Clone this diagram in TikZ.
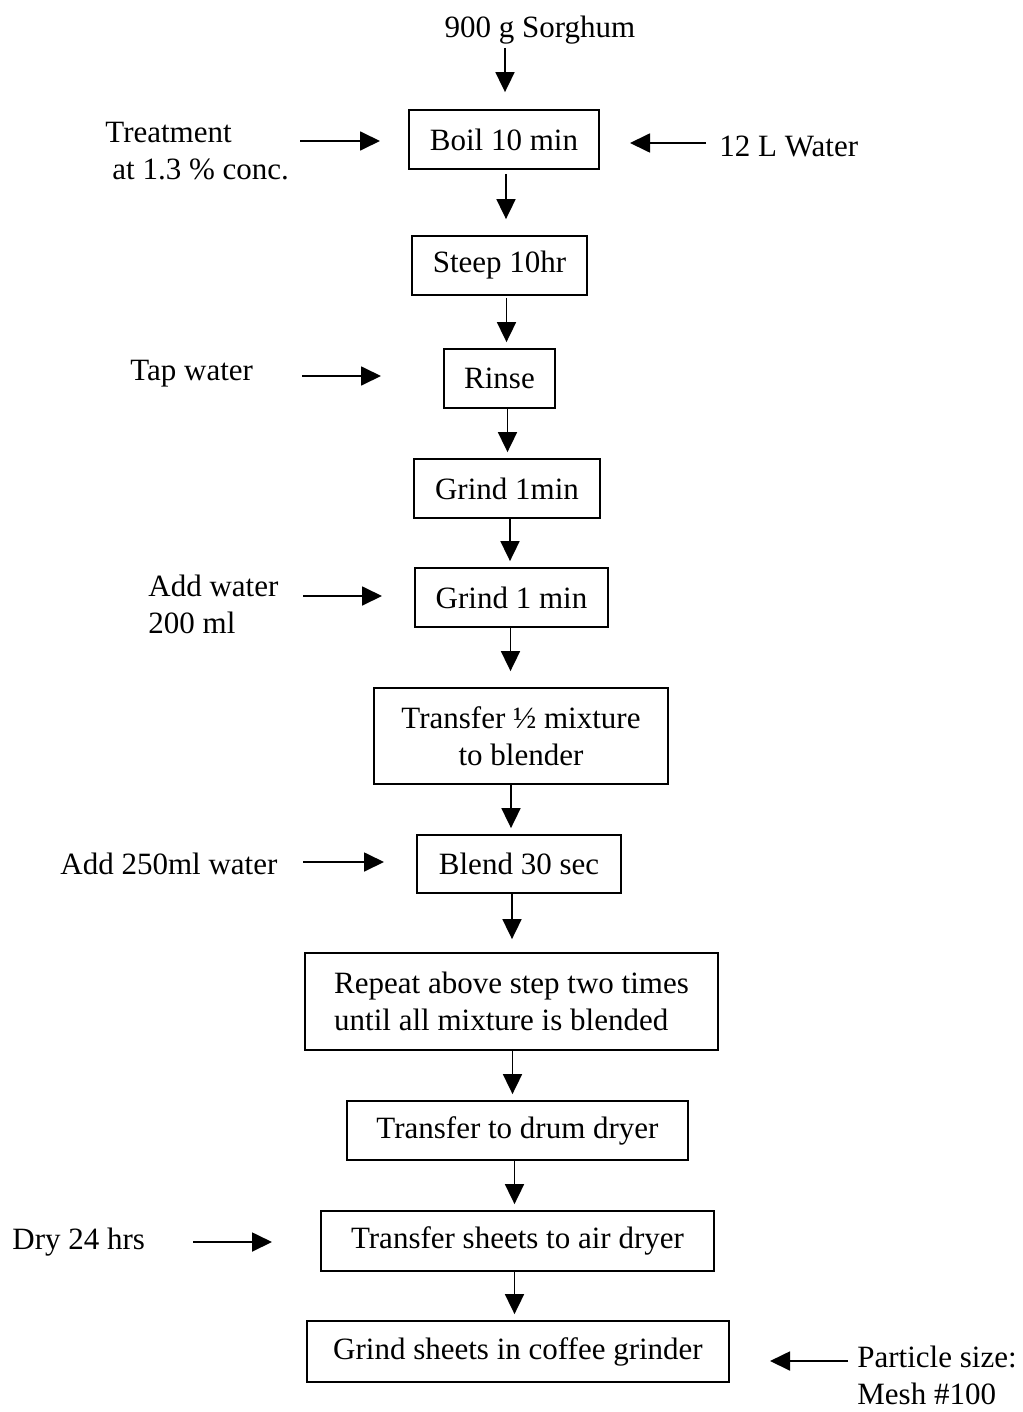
\documentclass[tikz,border=0pt]{standalone}
\usepackage{fontspec}
\setmainfont{Liberation Serif}
\usetikzlibrary{arrows.meta}
\newcommand\diagfont{\fontsize{15.5}{18.5}\selectfont}
\begin{document}
\begin{tikzpicture}[x=0.5pt,y=-0.5pt,
  box/.style={draw,line width=0.9pt,inner sep=0pt,align=center,font=\diagfont},
  lbl/.style={inner sep=0pt,font=\diagfont},
  arr/.style={line width=0.9pt,-{Triangle[length=10pt,width=9.5pt]}}]
\useasboundingbox (0,0) rectangle (1022,1412);
% boxes
\node[box,minimum width=95pt,minimum height=29.5pt] (boil) at (504,139.5) {Boil 10 min};
\node[box,minimum width=87.5pt,minimum height=29.5pt] (steep) at (499.5,265.5) {Steep 10hr};
\node[box,minimum width=55.5pt,minimum height=29.5pt] (rinse) at (499.5,378.5) {Rinse};
\node[box,minimum width=93pt,minimum height=29.5pt] (grindA) at (507,488.5) {Grind 1min};
\node[box,minimum width=96.5pt,minimum height=29.5pt] (grindB) at (511.5,597.5) {Grind 1 min};
\node[box,minimum width=147pt,minimum height=48pt] (transfer) at (521,736) {Transfer ½ mixture\\to blender};
\node[box,minimum width=102pt,minimum height=29pt] (blend) at (519,864) {Blend 30 sec};
\node[box,minimum width=206.5pt,minimum height=48.5pt,align=left] (repeat) at (511.5,1001.5) {Repeat above step two times\\until all mixture is blended};
\node[box,minimum width=170.5pt,minimum height=29.5pt] (drum) at (517.5,1130.5) {Transfer to drum dryer};
\node[box,minimum width=196.5pt,minimum height=30pt] (air) at (517.5,1241) {Transfer sheets to air dryer};
\node[box,minimum width=211pt,minimum height=30.5pt] (coffee) at (518,1351.5) {Grind sheets in coffee grinder};
% labels
\node[lbl] (sorg) at (540,30) {900 g Sorghum};
\node[lbl,align=left,anchor=north west] (treat) at (105,122) {Treatment\\\hspace{3.5pt}at 1.3 \% conc.};
\node[lbl,anchor=west] (water) at (719,146) {12 L Water};
\node[lbl,anchor=west] (tap) at (130,374) {Tap water};
\node[lbl,align=left,anchor=north west] (addw) at (148,575) {Add water\\200 ml};
\node[lbl,anchor=west] (add250) at (60,864) {Add 250ml water};
\node[lbl,anchor=west] (dry) at (12,1242) {Dry 24 hrs};
\node[lbl,align=left,anchor=north west] (part) at (857,1346) {Particle size:\\Mesh \#100};
% vertical arrows
\coordinate (a0) at (505,48);
\draw[arr,shorten >=8.5pt] (a0) -- (a0 |- boil.north);
\draw[arr,shorten <=2pt,shorten >=8pt] ([xshift=1pt]boil.south) -- ([xshift=1pt]boil.south |- steep.north);
\draw[arr,shorten <=1pt,shorten >=3pt] ([xshift=3.5pt]steep.south) -- ([xshift=3.5pt]steep.south |- rinse.north);
\draw[arr,shorten >=3pt] ([xshift=4pt]rinse.south) -- ([xshift=4pt]rinse.south |- grindA.north);
\draw[arr,shorten >=3pt] ([xshift=1.5pt]grindA.south) -- ([xshift=1.5pt]grindA.south |- grindB.north);
\draw[arr,shorten >=8pt] ([xshift=-0.5pt]grindB.south) -- ([xshift=-0.5pt]grindB.south |- transfer.north);
\draw[arr,shorten >=3pt] ([xshift=-5pt]transfer.south) -- ([xshift=-5pt]transfer.south |- blend.north);
\draw[arr,shorten >=6.5pt] ([xshift=-3.5pt]blend.south) -- ([xshift=-3.5pt]blend.south |- repeat.north);
\draw[arr,shorten >=3pt] ([xshift=0.5pt]repeat.south) -- ([xshift=0.5pt]repeat.south |- drum.north);
\draw[arr,shorten >=3pt] ([xshift=-1.5pt]drum.south) -- ([xshift=-1.5pt]drum.south |- air.north);
\draw[arr,shorten >=3pt] ([xshift=-1.5pt]air.south) -- ([xshift=-1.5pt]air.south |- coffee.north);
% side arrows
\coordinate (t1) at (300,141); \coordinate (t2) at (380,141);
\draw[arr] (t1) -- (t2);
\coordinate (w1) at (706,143); \coordinate (w2) at (630,143);
\draw[arr] (w1) -- (w2);
\coordinate (p1) at (302,376); \coordinate (p2) at (381,376);
\draw[arr] (p1) -- (p2);
\coordinate (d1) at (303,596); \coordinate (d2) at (382,596);
\draw[arr] (d1) -- (d2);
\coordinate (e1) at (303,862); \coordinate (e2) at (384,862);
\draw[arr] (e1) -- (e2);
\coordinate (f1) at (193,1242); \coordinate (f2) at (272,1242);
\draw[arr] (f1) -- (f2);
\coordinate (g1) at (848,1361); \coordinate (g2) at (770,1361);
\draw[arr] (g1) -- (g2);
\end{tikzpicture}
\end{document}
